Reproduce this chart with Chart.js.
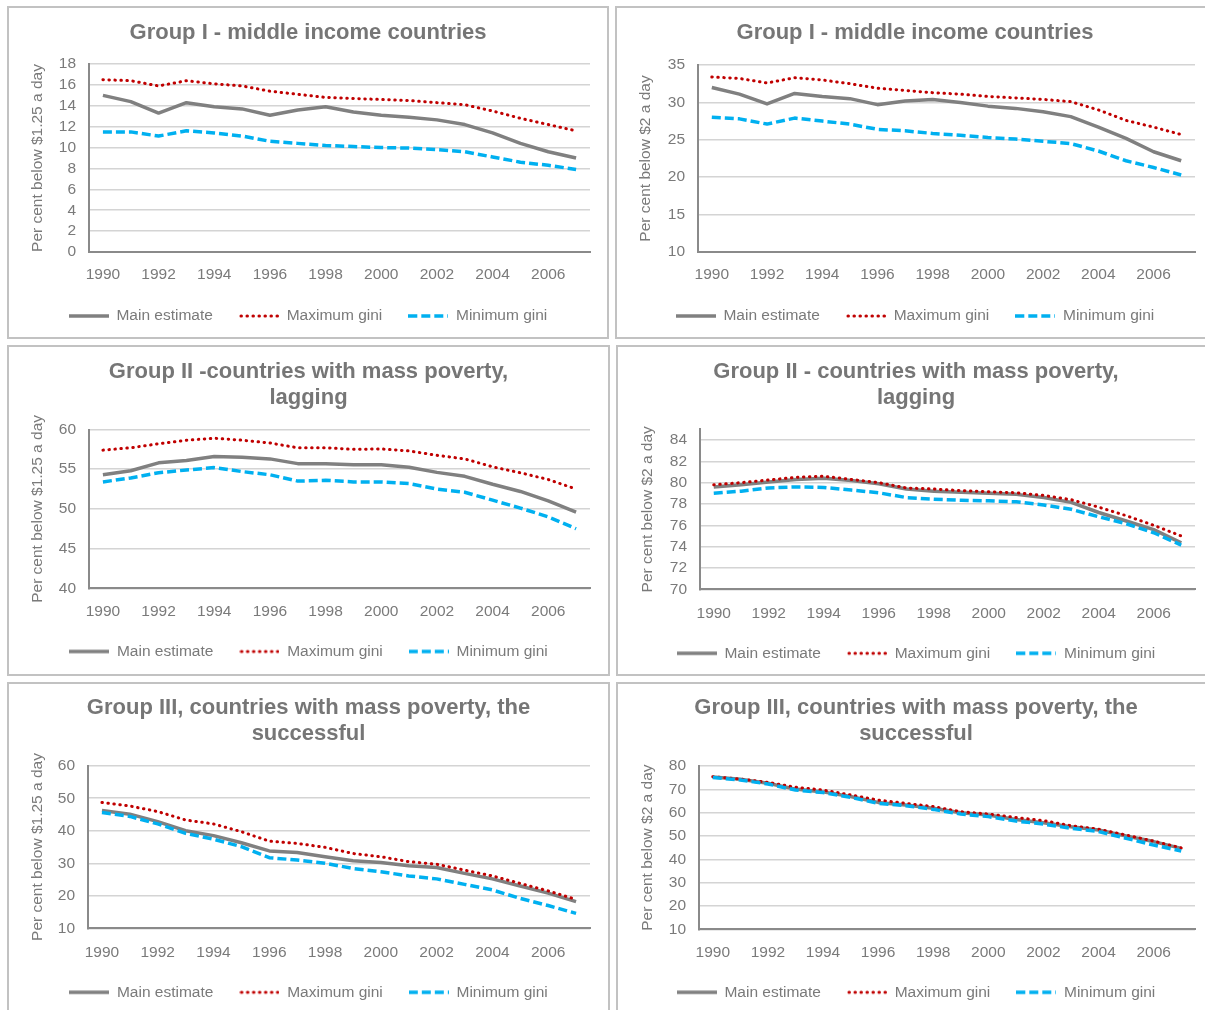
<!DOCTYPE html>
<html>
<head>
<meta charset="utf-8">
<title>Poverty headcount by group</title>
<script src="https://cdn.jsdelivr.net/npm/chart.js@4.4.1/dist/chart.umd.min.js"></script>
<style>
  html, body { margin: 0; padding: 0; background: #fff; }
  body { width: 1205px; height: 1010px; position: relative; overflow: hidden; }
  .panel { position: absolute; border: 2px solid #c2c2c2; box-sizing: border-box; background: #fff; overflow: hidden; }
  .panel canvas { position: absolute; left: 0; top: 0; }
</style>
</head>
<body>
<div class="panel" id="p1"><canvas id="c1"></canvas></div>
<div class="panel" id="p2"><canvas id="c2"></canvas></div>
<div class="panel" id="p3"><canvas id="c3"></canvas></div>
<div class="panel" id="p4"><canvas id="c4"></canvas></div>
<div class="panel" id="p5"><canvas id="c5"></canvas></div>
<div class="panel" id="p6"><canvas id="c6"></canvas></div>
<script>
// ---- data ----
const years = [1990, 1991, 1992, 1993, 1994, 1995, 1996, 1997, 1998, 1999,
               2000, 2001, 2002, 2003, 2004, 2005, 2006, 2007];

const seriesNames = ['Main estimate', 'Maximum gini', 'Minimum gini'];

// Group I, $1.25 a day
const g1Main125 = [15.0, 14.4, 13.3, 14.3, 13.9, 13.7, 13.1, 13.6, 13.9, 13.4, 13.1, 12.9, 12.65, 12.2, 11.4, 10.4, 9.6, 9.0];
const g1Max125  = [16.5, 16.4, 15.9, 16.4, 16.1, 15.9, 15.4, 15.1, 14.8, 14.7, 14.6, 14.5, 14.3, 14.1, 13.5, 12.8, 12.2, 11.6];
const g1Min125  = [11.5, 11.5, 11.1, 11.6, 11.4, 11.1, 10.6, 10.4, 10.2, 10.1, 10.0, 9.95, 9.8, 9.6, 9.1, 8.6, 8.3, 7.9];

// Group I, $2 a day
const g1Main2 = [32.0, 31.1, 29.8, 31.2, 30.8, 30.5, 29.7, 30.2, 30.4, 30.0, 29.5, 29.2, 28.75, 28.1, 26.7, 25.2, 23.4, 22.2];
const g1Max2  = [33.4, 33.2, 32.6, 33.3, 33.0, 32.5, 31.9, 31.6, 31.3, 31.1, 30.8, 30.6, 30.4, 30.1, 29.0, 27.6, 26.7, 25.7];
const g1Min2  = [28.0, 27.8, 27.1, 27.9, 27.5, 27.1, 26.4, 26.2, 25.85, 25.6, 25.3, 25.1, 24.8, 24.5, 23.5, 22.2, 21.3, 20.3];

// Group II, $1.25 a day
const g2Main125 = [54.3, 54.8, 55.8, 56.1, 56.6, 56.5, 56.3, 55.7, 55.7, 55.55, 55.55, 55.25, 54.6, 54.1, 53.1, 52.2, 51.0, 49.6];
const g2Max125  = [57.4, 57.7, 58.2, 58.65, 58.9, 58.65, 58.3, 57.7, 57.7, 57.5, 57.55, 57.3, 56.75, 56.3, 55.3, 54.55, 53.7, 52.5];
const g2Min125  = [53.4, 53.9, 54.55, 54.9, 55.2, 54.7, 54.3, 53.5, 53.6, 53.4, 53.4, 53.2, 52.5, 52.1, 51.1, 50.1, 49.0, 47.5];

// Group II, $2 a day
const g2Main2 = [79.6, 79.8, 80.05, 80.3, 80.4, 80.2, 79.9, 79.4, 79.2, 79.1, 79.0, 78.9, 78.6, 78.15, 77.2, 76.4, 75.6, 74.35];
const g2Max2  = [79.8, 80.0, 80.25, 80.5, 80.6, 80.3, 80.0, 79.5, 79.4, 79.25, 79.15, 79.05, 78.8, 78.4, 77.7, 76.9, 76.0, 75.0];
const g2Min2  = [79.0, 79.2, 79.5, 79.6, 79.55, 79.3, 79.05, 78.6, 78.45, 78.35, 78.3, 78.2, 77.9, 77.5, 76.8, 76.15, 75.3, 74.15];

// Group III, $1.25 a day
const g3Main125 = [46.2, 45.1, 42.8, 40.0, 38.5, 36.3, 33.8, 33.3, 32.0, 30.8, 30.2, 29.2, 28.7, 26.9, 25.2, 23.0, 20.8, 18.2];
const g3Max125  = [48.7, 47.6, 45.9, 43.3, 42.1, 39.7, 36.8, 36.1, 34.9, 33.0, 32.0, 30.5, 29.7, 27.9, 26.1, 23.8, 21.5, 18.9];
const g3Min125  = [45.6, 44.4, 42.1, 39.2, 37.4, 35.1, 31.7, 31.0, 30.0, 28.4, 27.4, 26.1, 25.2, 23.5, 21.8, 19.2, 17.0, 14.6];

// Group III, $2 a day
const g3Main2 = [75.3, 74.3, 72.6, 70.1, 68.9, 66.9, 64.4, 63.3, 61.9, 60.0, 59.0, 57.1, 55.7, 54.0, 52.6, 50.0, 47.6, 44.7];
const g3Max2  = [75.4, 74.4, 73.0, 70.9, 69.7, 67.6, 65.4, 64.0, 62.6, 60.4, 59.4, 57.9, 56.6, 54.4, 52.9, 50.4, 47.8, 44.9];
const g3Min2  = [75.1, 74.0, 72.3, 69.7, 68.6, 66.6, 64.0, 63.0, 61.4, 59.4, 58.3, 56.4, 55.1, 53.3, 51.9, 49.0, 46.1, 43.6];

// axis ranges [min, max, step]
const yRange125G1 = [0, 18, 2];
const yRange2G1   = [10, 35, 5];
const yRange125G2 = [40, 60, 5];
const yRange2G2   = [70, 85, 2];
const yRange125G3 = [10, 60, 10];
const yRange2G3   = [10, 80, 10];

const titleG1  = 'Group I - middle income countries';
const titleG2a = ['Group II -countries with mass poverty,', 'lagging'];
const titleG2b = ['Group II - countries with mass poverty,', 'lagging'];
const titleG3  = ['Group III, countries with mass poverty, the', 'successful'];
const yTitle125 = 'Per cent below $1.25 a day';
const yTitle2   = 'Per cent below $2 a day';

// ---- styling ----
const FONT = '"Liberation Sans", Arial, sans-serif';
const TEXT = '#7a7a7a';
const TICK_SIZE = 15.5;
const TITLE_SIZE = 22;
const LEGEND_PAD = 26;
const SWATCH_W = 40;

const lineStyles = [
  { borderColor: '#808080', borderWidth: 3.5, borderDash: [], borderCapStyle: 'butt', order: 2 },
  { borderColor: '#c00000', borderWidth: 3, borderDash: [0.5, 5.5], borderCapStyle: 'round', order: 1 },
  { borderColor: '#00b0f0', borderWidth: 3.5, borderDash: [9, 4], borderCapStyle: 'butt', order: 0 }
];

// small line samples for the legend, drawn with each series' own dash
const swatches = lineStyles.map(st => {
  const c = document.createElement('canvas');
  c.width = SWATCH_W;
  c.height = 8;
  const g = c.getContext('2d');
  g.strokeStyle = st.borderColor;
  g.lineWidth = st.borderWidth;
  g.lineCap = st.borderCapStyle;
  g.setLineDash(st.borderDash);
  g.beginPath();
  g.moveTo(st.borderCapStyle === 'round' ? 2 : 0, 4);
  g.lineTo(SWATCH_W, 4);
  g.stroke();
  return c;
});

// panel frames and where the plot, texts and legend sit (page pixels)
const panels = [
  { id: 1, box: [7, 6, 602, 333],   plot: [89, 64, 590, 252],   title: titleG1,  titleY: 33,  xLabelY: 275, legendY: 316, yTitleX: 38,  yTitle: yTitle125, range: yRange125G1, series: [g1Main125, g1Max125, g1Min125] },
  { id: 2, box: [615, 6, 600, 333], plot: [698, 65, 1195, 252], title: titleG1,  titleY: 33,  xLabelY: 275, legendY: 316, yTitleX: 646, yTitle: yTitle2,   range: yRange2G1,   series: [g1Main2, g1Max2, g1Min2] },
  { id: 3, box: [7, 345, 603, 331], plot: [89, 429.5, 590, 588.3], title: titleG2a, titleY: 372, xLabelY: 611.5, legendY: 651.5, yTitleX: 38, yTitle: yTitle125, range: yRange125G2, series: [g2Main125, g2Max125, g2Min125] },
  { id: 4, box: [616, 345, 600, 331], plot: [700, 429.3, 1195, 589.3], title: titleG2b, titleY: 372, xLabelY: 613.3, legendY: 653.3, yTitleX: 648, yTitle: yTitle2, range: yRange2G2, series: [g2Main2, g2Max2, g2Min2], openTop: true },
  { id: 5, box: [7, 682, 603, 340], plot: [88, 765.7, 590, 928.3], title: titleG3, titleY: 707.5, xLabelY: 952.5, legendY: 992.3, yTitleX: 38, yTitle: yTitle125, range: yRange125G3, series: [g3Main125, g3Max125, g3Min125] },
  { id: 6, box: [616, 682, 600, 340], plot: [699, 766, 1195, 929.3], title: titleG3, titleY: 708.3, xLabelY: 952.7, legendY: 992.3, yTitleX: 648, yTitle: yTitle2, range: yRange2G3, series: [g3Main2, g3Max2, g3Min2] }
];

function makeChart(p) {
  const div = document.getElementById('p' + p.id);
  const [bx, by, bw, bh] = p.box;
  div.style.left = bx + 'px';
  div.style.top = by + 'px';
  div.style.width = bw + 'px';
  div.style.height = bh + 'px';

  const ox = bx + 2, oy = by + 2;
  const W = bw - 4, H = bh - 4;
  const canvas = document.getElementById('c' + p.id);
  canvas.width = W;
  canvas.height = H;
  canvas.style.width = W + 'px';
  canvas.style.height = H + 'px';

  const left = p.plot[0] - ox, top = p.plot[1] - oy;
  const right = p.plot[2] - ox, bottom = p.plot[3] - oy;

  // title block
  const titleLines = Array.isArray(p.title) ? p.title.length : 1;
  const titleLH = 26;
  const titlePadTop = (p.titleY - oy) - titleLH / 2;
  const titlePadBottom = top - titlePadTop - titleLH * titleLines;

  // legend block (height = itemHeight + padding + 10 in Chart.js)
  const legendH = TICK_SIZE + LEGEND_PAD + 10;
  const legendTop = (p.legendY - oy) - (LEGEND_PAD + TICK_SIZE / 2);
  const padBottom = H - legendTop - legendH;

  const tickLH = TICK_SIZE * 1.2;
  const [yMin, yMax, yStep] = p.range;

  const datasets = p.series.map((values, i) => Object.assign({
    label: seriesNames[i],
    data: values,
    pointRadius: 0,
    pointHoverRadius: 0,
    tension: 0,
    fill: false,
    borderJoinStyle: 'round',
    backgroundColor: lineStyles[i].borderColor
  }, lineStyles[i]));

  return new Chart(canvas, {
    type: 'line',
    data: { labels: years, datasets },
    options: {
      responsive: false,
      animation: false,
      events: [],
      layout: { padding: { left: 0, right: 0, top: 0, bottom: padBottom } },
      scales: {
        x: {
          type: 'category',
          offset: true,
          grid: { display: false, drawTicks: false },
          border: { display: true, color: '#8a8a8a', width: 2 },
          ticks: {
            autoSkip: false,
            maxRotation: 0,
            padding: (p.xLabelY - oy) - bottom - tickLH / 2,
            color: TEXT,
            font: { family: FONT, size: TICK_SIZE },
            callback: (v, i) => (i % 2 === 0 ? String(years[i]) : null)
          },
          afterFit: s => { s.height = legendTop - bottom; }
        },
        y: {
          type: 'linear',
          position: 'left',
          min: yMin,
          max: yMax,
          grid: { color: '#d4d4d4', lineWidth: 1.5, drawTicks: false },
          border: { display: true, color: '#8a8a8a', width: 2 },
          ticks: {
            stepSize: yStep,
            autoSkip: false,
            includeBounds: !p.openTop,
            padding: 13,
            color: TEXT,
            font: { family: FONT, size: TICK_SIZE }
          },
          title: {
            display: true,
            text: p.yTitle,
            color: TEXT,
            font: { family: FONT, size: TICK_SIZE },
            padding: { top: (p.yTitleX - ox) - tickLH / 2, bottom: 0 }
          },
          afterFit: s => { s.width = left; }
        },
        // empty right-hand box keeps the plot clear of the frame edge
        gap: {
          type: 'linear',
          position: 'right',
          display: true,
          grid: { display: false, drawTicks: false },
          border: { display: false },
          ticks: { display: false },
          afterFit: s => { s.width = W - right; }
        }
      },
      plugins: {
        title: {
          display: true,
          text: p.title,
          color: '#767676',
          font: { family: FONT, size: TITLE_SIZE, weight: 'bold', lineHeight: titleLH / TITLE_SIZE },
          padding: { top: titlePadTop, bottom: titlePadBottom }
        },
        legend: {
          display: true,
          position: 'bottom',
          labels: {
            usePointStyle: true,
            pointStyleWidth: SWATCH_W,
            padding: LEGEND_PAD,
            color: TEXT,
            font: { family: FONT, size: TICK_SIZE },
            generateLabels: chart => Chart.defaults.plugins.legend.labels.generateLabels(chart)
              .map(item => Object.assign(item, { pointStyle: swatches[item.datasetIndex] })),
            sort: (a, b) => a.datasetIndex - b.datasetIndex
          }
        },
        tooltip: { enabled: false }
      }
    }
  });
}

panels.forEach(makeChart);
</script>
</body>
</html>
